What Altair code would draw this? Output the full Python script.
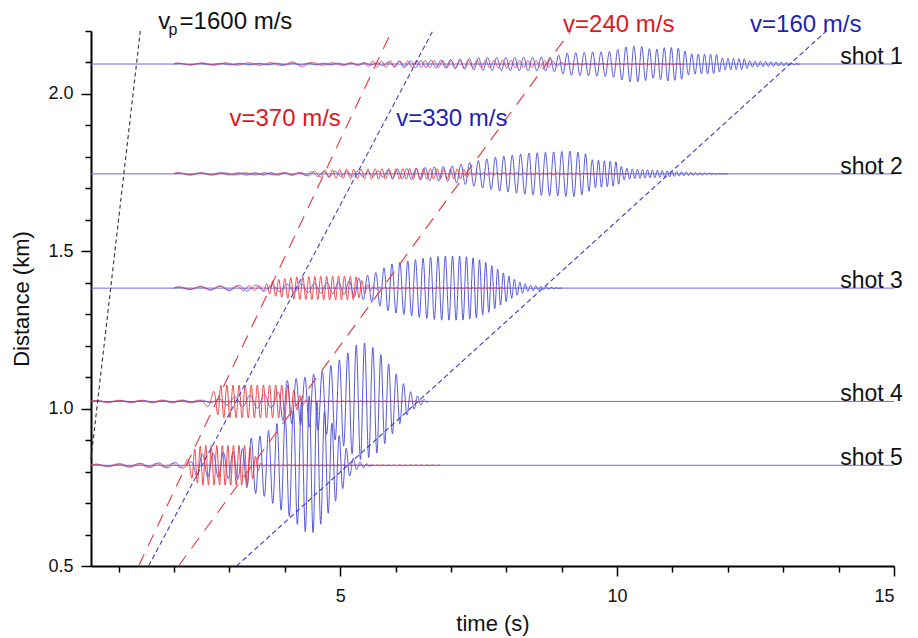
import numpy as np
import pandas as pd
import altair as alt

alt.data_transformers.disable_max_rows()

# ---------------- data ----------------
SHOTS = ["shot 1", "shot 2", "shot 3", "shot 4", "shot 5"]
SHOT_DIST = [2.095, 1.746, 1.383, 1.023, 0.820]          # km
TRACE_START = [2.0, 2.0, 2.0, 0.5, 0.5]                   # s

# red traces: envelope knots (time s, half-amplitude km) and local period knots (time s, period s)
RED_END = [11.2, 10.2, 8.0, 6.5, 6.8]
RED_ENV_T = [
    [2.0, 3.5, 4.0, 4.3, 4.6, 5.4, 5.6, 6.5, 8.0, 8.8, 9.1, 11.2],
    [2.0, 4.3, 4.5, 4.9, 5.5, 6.5, 7.2, 7.4, 10.2],
    [2.0, 3.0, 3.6, 3.8, 4.2, 5.0, 5.3, 5.5, 5.7, 8.0],
    [0.5, 2.5, 2.7, 2.85, 4.05, 4.3, 4.4, 6.5],
    [0.5, 1.9, 2.2, 2.35, 2.5, 3.35, 3.5, 3.6, 6.8],
]
RED_ENV_A = [
    [0.003, 0.004, 0.005, 0.009, 0.004, 0.004, 0.010, 0.011, 0.012, 0.010, 0.002, 0.001],
    [0.003, 0.004, 0.008, 0.014, 0.016, 0.017, 0.016, 0.004, 0.0015],
    [0.003, 0.006, 0.008, 0.025, 0.036, 0.038, 0.036, 0.010, 0.002, 0.0015],
    [0.003, 0.004, 0.030, 0.052, 0.052, 0.015, 0.002, 0.001],
    [0.003, 0.006, 0.008, 0.050, 0.063, 0.063, 0.020, 0.002, 0.001],
]
RED_PER_T = [
    [2.0, 5.0, 5.5, 9.0],
    [2.0, 4.3, 4.8, 7.3],
    [2.0, 3.0, 3.7, 5.5],
    [0.5, 2.6, 2.8, 4.3],
    [0.5, 2.2, 2.35, 3.5],
]
RED_PER_P = [
    [0.45, 0.35, 0.16, 0.15],
    [0.45, 0.30, 0.13, 0.12],
    [0.45, 0.30, 0.11, 0.105],
    [0.45, 0.30, 0.11, 0.11],
    [0.45, 0.25, 0.10, 0.10],
]

# blue traces
BLUE_END = [13.3, 12.0, 9.0, 6.6, 5.6]
BLUE_ENV_T = [
    [2.0, 5.5, 6.3, 7.0, 7.5, 8.8, 9.1, 9.9, 10.2, 10.45, 10.65, 10.9, 11.15, 11.3, 11.8, 11.9, 12.3, 12.4, 13.0, 13.3],
    [2.0, 4.3, 4.6, 5.6, 6.0, 7.0, 7.3, 7.8, 8.4, 9.2, 9.45, 9.55, 10.0, 10.1, 10.3, 10.8, 11.2, 11.6, 12.0],
    [2.0, 3.0, 3.7, 4.5, 5.1, 5.3, 5.65, 5.9, 6.4, 6.8, 7.2, 7.45, 7.7, 7.95, 8.2, 8.4, 8.6, 9.0],
    [0.5, 2.7, 2.9, 3.5, 3.85, 3.95, 4.1, 4.35, 4.7, 5.05, 5.3, 5.42, 5.66, 5.9, 6.08, 6.26, 6.44, 6.6],
    [0.5, 1.9, 2.3, 2.4, 3.2, 3.38, 3.6, 3.86, 4.1, 4.33, 4.46, 4.58, 4.7, 4.82, 5.0, 5.18, 5.3, 5.6],
]
BLUE_ENV_A = [
    [0.002, 0.003, 0.010, 0.014, 0.020, 0.022, 0.035, 0.040, 0.057, 0.056, 0.045, 0.054, 0.050, 0.033, 0.030, 0.019, 0.017, 0.010, 0.006, 0.0],
    [0.003, 0.004, 0.008, 0.008, 0.015, 0.025, 0.035, 0.053, 0.066, 0.073, 0.063, 0.045, 0.038, 0.020, 0.015, 0.011, 0.006, 0.003, 0.0],
    [0.003, 0.008, 0.010, 0.015, 0.020, 0.030, 0.050, 0.076, 0.092, 0.102, 0.102, 0.095, 0.076, 0.048, 0.022, 0.010, 0.006, 0.0],
    [0.003, 0.004, 0.010, 0.022, 0.020, 0.060, 0.070, 0.076, 0.098, 0.140, 0.181, 0.1875, 0.165, 0.114, 0.070, 0.032, 0.013, 0.0],
    [0.003, 0.008, 0.010, 0.035, 0.045, 0.086, 0.095, 0.133, 0.165, 0.207, 0.222, 0.203, 0.175, 0.143, 0.089, 0.032, 0.013, 0.0],
]
BLUE_PER_T = [
    [2.0, 6.0, 7.0, 9.0, 10.0, 11.3, 12.0, 13.3],
    [2.0, 4.5, 6.0, 7.5, 9.3, 9.6, 10.5, 12.0],
    [2.0, 3.5, 5.0, 5.5, 7.0, 8.0, 9.0],
    [0.5, 2.8, 3.8, 4.0, 5.5, 6.5],
    [0.5, 2.3, 2.5, 3.3, 4.5, 5.5],
]
BLUE_PER_P = [
    [0.40, 0.20, 0.17, 0.155, 0.15, 0.12, 0.10, 0.09],
    [0.40, 0.22, 0.17, 0.155, 0.145, 0.11, 0.09, 0.08],
    [0.40, 0.30, 0.20, 0.15, 0.13, 0.10, 0.09],
    [0.45, 0.30, 0.24, 0.16, 0.15, 0.12],
    [0.45, 0.25, 0.20, 0.16, 0.14, 0.12],
]

# dashed velocity guides (end points)
GUIDE_COLOR = ["black", "red", "red", "blue", "blue"]
GUIDE_T1 = [0.5, 1.36, 2.08, 1.54, 3.13]
GUIDE_D1 = [0.84, 0.5, 0.5, 0.5, 0.5]
GUIDE_T2 = [1.39, 5.93, 9.16, 6.67, 13.78]
GUIDE_D2 = [2.2, 2.2, 2.2, 2.2, 2.2]

# velocity labels
VEL_TEXT = ["v=370 m/s", "v=330 m/s", "v=240 m/s", "v=160 m/s"]
VEL_COLOR = ["red", "blue", "red", "blue"]
VEL_T = [3.0, 6.01, 9.025, 12.4]
VEL_D = [1.899, 1.899, 2.196, 2.196]
VP_T = [1.715, 1.90, 2.10]
VP_TEXT = ["v", "p", "=1600 m/s"]
VP_D = 2.207

# ---------------- build tables ----------------
DT = 0.004
RED = "#e8363c"
BLUE = "#4646d8"
BASE_BLUE = "#6a6ae6"
FONT = "Liberation Sans"


def trace(t0, t1, et, ea, pt, pp, ph0):
    t = np.arange(t0, t1 + 1e-9, DT)
    a = np.interp(t, et, ea)
    p = np.interp(t, pt, pp)
    ph = ph0 + np.cumsum(2 * np.pi * DT / p)
    return t, a * np.sin(ph)


rows_red, rows_blue = [], []
for i, name in enumerate(SHOTS):
    t, y = trace(TRACE_START[i], RED_END[i], RED_ENV_T[i], RED_ENV_A[i], RED_PER_T[i], RED_PER_P[i], 0.6)
    rows_red.append(pd.DataFrame({"t": np.round(t, 3), "d": np.round(SHOT_DIST[i] + y, 5), "trace": name}))
    t, y = trace(TRACE_START[i], BLUE_END[i], BLUE_ENV_T[i], BLUE_ENV_A[i], BLUE_PER_T[i], BLUE_PER_P[i], 0.0)
    rows_blue.append(pd.DataFrame({"t": np.round(t, 3), "d": np.round(SHOT_DIST[i] + y, 5), "trace": name}))
red_df = pd.concat(rows_red, ignore_index=True)
blue_df = pd.concat(rows_blue, ignore_index=True)

shots_df = pd.DataFrame({"shot": SHOTS, "d": SHOT_DIST, "t": [15.16] * len(SHOTS)})
guides_df = pd.DataFrame({"c": GUIDE_COLOR, "t1": GUIDE_T1, "d1": GUIDE_D1, "t2": GUIDE_T2, "d2": GUIDE_D2})
vel_df = pd.DataFrame({"text": VEL_TEXT, "c": VEL_COLOR, "t": VEL_T, "d": VEL_D})
vp_df = pd.DataFrame({"text": VP_TEXT, "t": VP_T, "d": [VP_D] * 3})

# ---------------- scales / axes ----------------
xs = alt.Scale(domain=[0.5, 15], nice=False, zero=False)
ys = alt.Scale(domain=[0.5, 2.2], nice=False, zero=False)

axis_common = dict(
    grid=False, domainColor="black", domainWidth=2, tickColor="black", tickWidth=1.5,
    labelFont=FONT, labelFontSize=18, labelColor="#111",
    titleFont=FONT, titleFontSize=22, titleFontWeight="normal", titleColor="#111",
)
x_axis = alt.Axis(
    values=list(range(1, 16)), title="time (s)",
    labelExpr="datum.value % 5 == 0 ? datum.label : ''",
    tickSize={"condition": {"test": "datum.value % 5 == 0", "value": 10}, "value": 6},
    labelPadding=11, titlePadding=8, **axis_common,
)
y_vals = [round(0.5 + 0.1 * k, 1) for k in range(18)]
y_axis = alt.Axis(
    values=y_vals, title="Distance (km)", format=".1f",
    labelExpr="abs(datum.value * 2 - round(datum.value * 2)) < 0.001 ? datum.label : ''",
    tickSize={"condition": {"test": "abs(datum.value * 2 - round(datum.value * 2)) < 0.001", "value": 10}, "value": 6},
    labelPadding=8, titlePadding=14, **axis_common,
)

X = lambda f: alt.X(f, type="quantitative", scale=xs, axis=x_axis)
Y = lambda f: alt.Y(f, type="quantitative", scale=ys, axis=y_axis)

baselines = alt.Chart(shots_df).mark_rule(color=BASE_BLUE, strokeWidth=1).encode(y=Y("d"))

blue_lines = alt.Chart(blue_df).mark_line(color=BLUE, strokeWidth=0.9).encode(
    x=X("t"), y=Y("d"), detail="trace:N")
red_lines = alt.Chart(red_df).mark_line(color=RED, strokeWidth=0.9).encode(
    x=X("t"), y=Y("d"), detail="trace:N")


def guide(color, dash, stroke):
    return alt.Chart(guides_df).transform_filter(alt.datum.c == color).mark_rule(
        color=stroke, strokeDash=dash, strokeWidth=1.1).encode(
        x=X("t1"), x2="t2", y=Y("d1"), y2="d2")


g_black = guide("black", [4, 3], "#333333")
g_red = guide("red", [13, 9], "#e8363c")
g_blue = guide("blue", [5, 3], "#4040c8")

shot_text = alt.Chart(shots_df).mark_text(
    align="right", baseline="alphabetic", font=FONT, fontSize=23, color="#111").encode(
    x=X("t"), y=Y("d"), text="shot:N")

vel_red = alt.Chart(vel_df).transform_filter(alt.datum.c == "red").mark_text(
    align="left", baseline="alphabetic", font=FONT, fontSize=24, color="#e2161e").encode(
    x=X("t"), y=Y("d"), text="text:N")
vel_blue = alt.Chart(vel_df).transform_filter(alt.datum.c == "blue").mark_text(
    align="left", baseline="alphabetic", font=FONT, fontSize=24, color="#1f1fb8").encode(
    x=X("t"), y=Y("d"), text="text:N")

vp_main = alt.Chart(vp_df).transform_filter(alt.datum.text != "p").mark_text(
    align="left", baseline="alphabetic", font=FONT, fontSize=24, color="#111").encode(
    x=X("t"), y=Y("d"), text="text:N")
vp_sub = alt.Chart(vp_df).transform_filter(alt.datum.text == "p").mark_text(
    align="left", baseline="alphabetic", font=FONT, fontSize=16, dy=6, color="#111").encode(
    x=X("t"), y=Y("d"), text="text:N")

chart = alt.layer(
    baselines, blue_lines, red_lines, g_black, g_red, g_blue,
    shot_text, vel_red, vel_blue, vp_main, vp_sub,
).properties(
    width=803, height=535,
    autosize=alt.AutoSizeParams(type="none"),
    padding={"left": 83, "top": 23, "right": 16, "bottom": 72},
).configure_view(stroke=None)

chart.save("out.html", embed_options={"renderer": "svg", "actions": False})
